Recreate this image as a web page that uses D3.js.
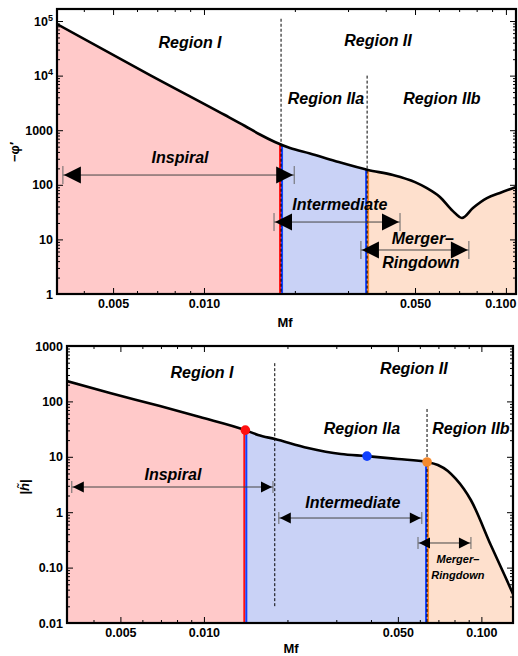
<!DOCTYPE html>
<html>
<head>
<meta charset="utf-8">
<script src="https://cdn.jsdelivr.net/npm/d3@7"></script>
<style>
  body { margin: 0; background: #fff; }
  svg { display: block; }
  text { font-family: "Liberation Sans", Arial, Helvetica, sans-serif; }
</style>
</head>
<body>
<svg id="chart" width="518" height="656"></svg>
<script>
// ---------- Phase derivative −φ′ versus Mf ----------
const phaseMf  = [0.003259, 0.006626, 0.01173, 0.01367, 0.01532, 0.01718, 0.01927, 0.02244, 0.02715, 0.03493,
                  0.04226, 0.0500, 0.05476, 0.06046, 0.06677, 0.0715, 0.07775, 0.0865, 0.0955, 0.108];
const phaseVal = [88100, 10250, 1898, 1194, 834, 608, 472, 374, 273, 187,
                  151, 112, 87, 60, 33, 24.7, 37.6, 57, 71, 91];
const phaseBounds   = [0.018, 0.0347];          // Region I | IIa | IIb
const phaseDividers = [[0.018, 1.1e5], [0.0347, 1e4]];   // [Mf, top of dashed line]
const phaseArrows = [
  { name: "Inspiral",        from: 0.00341, to: 0.0199, at: 151 },
  { name: "Intermediate",    from: 0.01706, to: 0.0446, at: 20.8 },
  { name: "Merger–Ringdown", from: 0.0331,  to: 0.0754, at: 6.4 }
];
const phaseYTicks = [1, 10, 100, 1000, 1e4, 1e5];
const phaseYTickLabels = ["1", "10", "100", "1000", "10^4", "10^5"];

// ---------- Amplitude |h̃| versus Mf ----------
const ampMf  = [0.003206, 0.004585, 0.006941, 0.00967, 0.01406, 0.01567, 0.01803, 0.02371, 0.03117, 0.03866,
                0.0500, 0.06368, 0.0697, 0.07571, 0.08091, 0.08649, 0.09162, 0.1081, 0.1216, 0.130];
const ampVal = [233, 141.8, 82.6, 52.3, 30.5, 24.8, 20.9, 14.4, 11.2, 10.3,
                9.12, 8.06, 7.11, 5.54, 3.98, 2.62, 1.66, 0.256, 0.0705, 0.0334];
const ampBounds   = [0.0141, 0.0637];
const ampDividers = [[0.018, 490, 0.0195], [0.0637, 73, 0.01]];  // [Mf, top, bottom]
const ampDots     = [0.0141, 0.0387, 0.0637];
const ampArrows = [
  { name: "Inspiral",        from: 0.00334, to: 0.01774, at: 2.85 },
  { name: "Intermediate",    from: 0.01862, to: 0.0610,  at: 0.785 },
  { name: "Merger–Ringdown", from: 0.0591,  to: 0.0917,  at: 0.278 }
];
const ampYTicks = [0.01, 0.1, 1, 10, 100, 1000];
const ampYTickLabels = ["0.01", "0.10", "1", "10", "100", "1000"];

// shared frequency ticks
const mfTicks = [0.005, 0.01, 0.05, 0.1];
const mfTickLabels = ["0.005", "0.010", "0.050", "0.100"];

// region / phase names with their anchor points [Mf, value]
const phaseTexts = [
  ["Region I",   0.00899, 41200], ["Region II", 0.0377, 44900],
  ["Region IIa", 0.02535, 3890],  ["Region IIb", 0.0614, 3890],
  ["Inspiral",   0.00833, 310],   ["Intermediate", 0.0282, 44.5],
  ["Merger–",    0.0531, 10.2],   ["Ringdown", 0.0523, 3.70]
];
const ampTexts = [
  ["Region I",   0.00984, 339],   ["Region II", 0.0571, 385],
  ["Region IIa", 0.0371, 31.8],   ["Region IIb", 0.0917, 31.8],
  ["Inspiral",   0.00773, 4.89],  ["Intermediate", 0.0344, 1.47]
];
const ampSmallTexts = [["Merger–", 0.0823, 0.143], ["Ringdown", 0.0823, 0.0735]];

const svg = d3.select("#chart");
const SVG_W = +svg.attr("width");
const FILL = ["#FFC9C9", "#C9D2F6", "#FEE0CD"];
const RED = "#FF1010", BLUE = "#1040FF", ORANGE = "#F58A2E";

function logInterp(xs, ys, f) {
  const lf = Math.log10(f);
  for (let i = 0; i < xs.length - 1; i++) {
    const a = Math.log10(xs[i]), b = Math.log10(xs[i + 1]);
    if (lf >= a && lf <= b) {
      const t = (lf - a) / (b - a);
      return Math.pow(10, Math.log10(ys[i]) * (1 - t) + Math.log10(ys[i + 1]) * t);
    }
  }
  return ys[ys.length - 1];
}

function minorTicks(domain, majors) {
  const out = [];
  const lo = Math.floor(Math.log10(domain[0])), hi = Math.ceil(Math.log10(domain[1]));
  for (let e = lo; e <= hi; e++) {
    for (let k = 1; k <= 9; k++) {
      const v = +(k * Math.pow(10, e)).toPrecision(6);
      if (v >= domain[0] && v <= domain[1] && !majors.some(m => Math.abs(m - v) / v < 1e-6)) out.push(v);
    }
  }
  return out;
}

function drawPanel(p) {
  const x = d3.scaleLog().domain(p.xDomain).range([p.left, p.right]);
  const y = d3.scaleLog().domain(p.yDomain).range([p.bottom, p.top]);
  const g = svg.append("g");
  const id = p.id;

  const defs = g.append("defs");
  defs.append("clipPath").attr("id", id + "-plot").append("rect")
    .attr("x", p.left).attr("y", p.top).attr("width", p.right - p.left).attr("height", p.bottom - p.top);
  const edges = [p.xDomain[0], p.bounds[0], p.bounds[1], p.xDomain[1]];
  for (let i = 0; i < 3; i++) {
    defs.append("clipPath").attr("id", id + "-r" + i).append("rect")
      .attr("x", x(edges[i])).attr("y", p.top)
      .attr("width", x(edges[i + 1]) - x(edges[i])).attr("height", p.bottom - p.top);
  }

  const pts = p.mf.map((f, i) => [f, p.val[i]]);
  const area = d3.area().x(d => x(d[0])).y0(p.bottom).y1(d => y(d[1])).curve(d3.curveMonotoneX);
  const line = d3.line().x(d => x(d[0])).y(d => y(d[1])).curve(d3.curveMonotoneX);

  const plot = g.append("g").attr("clip-path", `url(#${id}-plot)`);
  for (let i = 0; i < 3; i++) {
    plot.append("g").attr("clip-path", `url(#${id}-r${i})`)
      .append("path").attr("d", area(pts)).attr("fill", FILL[i]);
  }

  // coloured region edges
  const edgeCols = [[RED, BLUE], [BLUE, ORANGE]];
  p.bounds.forEach((b, i) => {
    const yTop = y(logInterp(p.mf, p.val, b));
    [-1, 1].forEach((off, j) => {
      plot.append("line").attr("x1", x(b) + off).attr("x2", x(b) + off)
        .attr("y1", yTop).attr("y2", p.bottom)
        .attr("stroke", edgeCols[i][j]).attr("stroke-width", 2);
    });
  });

  // dashed dividers
  p.dividers.forEach(d => {
    plot.append("line").attr("x1", x(d[0])).attr("x2", x(d[0]))
      .attr("y1", y(d[1])).attr("y2", d[2] ? y(d[2]) : p.bottom)
      .attr("stroke", "#000").attr("stroke-width", 1).attr("stroke-dasharray", "3,2");
  });

  plot.append("path").attr("d", line(pts)).attr("fill", "none")
    .attr("stroke", "#000").attr("stroke-width", 2.6).attr("stroke-linejoin", "round");

  // arrows
  p.arrows.forEach(a => {
    const x1 = x(a.from), x2 = x(a.to), yy = y(a.at);
    const ag = g.append("g");
    ag.append("line").attr("x1", x1).attr("x2", x2).attr("y1", yy).attr("y2", yy)
      .attr("stroke", "#444").attr("stroke-width", 1);
    [x1, x2].forEach(xx => ag.append("line").attr("x1", xx).attr("x2", xx)
      .attr("y1", yy - p.barHalf).attr("y2", yy + p.barHalf).attr("stroke", "#666").attr("stroke-width", 1));
    const L = p.headLen, Hh = p.headHalf;
    ag.append("path").attr("d", `M${x1 + 1},${yy}L${x1 + 1 + L},${yy - Hh}L${x1 + 1 + L},${yy + Hh}Z`).attr("fill", "#000");
    ag.append("path").attr("d", `M${x2 - 1},${yy}L${x2 - 1 - L},${yy - Hh}L${x2 - 1 - L},${yy + Hh}Z`).attr("fill", "#000");
  });

  // dots
  (p.dots || []).forEach((f, i) => {
    g.append("circle").attr("cx", x(f)).attr("cy", y(logInterp(p.mf, p.val, f)))
      .attr("r", 4.8).attr("fill", [RED, BLUE, ORANGE][i]);
  });

  // annotations
  p.texts.forEach(t => {
    g.append("text").attr("x", x(t[1])).attr("y", y(t[2])).attr("text-anchor", "middle")
      .attr("dominant-baseline", "central").attr("font-size", 16).attr("font-weight", "bold")
      .attr("font-style", "italic").attr("fill", "#000").text(t[0]);
  });
  (p.smallTexts || []).forEach(t => {
    g.append("text").attr("x", x(t[1])).attr("y", y(t[2])).attr("text-anchor", "middle")
      .attr("dominant-baseline", "central").attr("font-size", 11).attr("font-weight", "bold")
      .attr("font-style", "italic").attr("fill", "#000").text(t[0]);
  });

  // axes with inward ticks on all four sides
  const xMinor = minorTicks(p.xDomain, mfTicks);
  const yMinor = minorTicks(p.yDomain, p.yTicks);
  const styleAxis = sel => {
    sel.select(".domain").remove();
    sel.selectAll(".tick line").attr("stroke", "#000").attr("stroke-width", 1);
    sel.selectAll(".tick text").attr("font-size", 12.5).attr("font-weight", "bold").attr("fill", "#000");
  };
  const ax = (gen, tr) => g.append("g").attr("transform", tr).call(gen).call(styleAxis);

  const xl = ax(d3.axisBottom(x).tickValues(mfTicks).tickSize(-6).tickPadding(5)
      .tickFormat((d, i) => mfTickLabels[i]), `translate(0,${p.bottom})`);
  // keep the last frequency label inside the drawing
  xl.selectAll(".tick text").each(function () {
    const bb = this.getBoundingClientRect();
    if (bb.right > SVG_W - 1) d3.select(this).attr("dx", -(bb.right - SVG_W + 1.5));
  });
  ax(d3.axisBottom(x).tickValues(xMinor).tickSize(-3).tickFormat(""), `translate(0,${p.bottom})`);
  ax(d3.axisTop(x).tickValues(mfTicks).tickSize(-6).tickFormat(""), `translate(0,${p.top})`);
  ax(d3.axisTop(x).tickValues(xMinor).tickSize(-3).tickFormat(""), `translate(0,${p.top})`);

  const yl = ax(d3.axisLeft(y).tickValues(p.yTicks).tickSize(-6).tickPadding(4)
      .tickFormat((d, i) => p.yTickLabels[i]), `translate(${p.left},0)`);
  yl.selectAll(".tick text").each(function (d, i) {
    const lab = p.yTickLabels[i];
    if (lab.indexOf("^") > 0) {
      const [b, e] = lab.split("^");
      const t = d3.select(this).text(b);
      t.append("tspan").attr("dy", "-0.55em").attr("font-size", 9).text(e);
    }
  });
  ax(d3.axisLeft(y).tickValues(yMinor).tickSize(-3).tickFormat(""), `translate(${p.left},0)`);
  ax(d3.axisRight(y).tickValues(p.yTicks).tickSize(-6).tickFormat(""), `translate(${p.right},0)`);
  ax(d3.axisRight(y).tickValues(yMinor).tickSize(-3).tickFormat(""), `translate(${p.right},0)`);

  // frame
  g.append("rect").attr("x", p.left).attr("y", p.top)
    .attr("width", p.right - p.left).attr("height", p.bottom - p.top)
    .attr("fill", "none").attr("stroke", "#000").attr("stroke-width", 2.2);

  // axis titles
  g.append("text").attr("x", p.xTitle[0]).attr("y", p.xTitle[1]).attr("text-anchor", "middle")
    .attr("dominant-baseline", "central").attr("font-size", 13).attr("font-weight", "bold").text("Mf");
  const yt = g.append("text").attr("transform", `translate(${p.yTitle[0]},${p.yTitle[1]}) rotate(-90)`)
    .attr("text-anchor", "middle").attr("dominant-baseline", "central")
    .attr("font-size", 13).attr("font-weight", "bold");
  p.yTitleFn(yt);
}

drawPanel({
  id: "phase", left: 57, right: 516, top: 9, bottom: 294,
  xDomain: [0.00326, 0.108], yDomain: [1, 1.66e5],
  mf: phaseMf, val: phaseVal, bounds: phaseBounds, dividers: phaseDividers,
  arrows: phaseArrows, headLen: 17, headHalf: 8.5, barHalf: 9,
  texts: phaseTexts, yTicks: phaseYTicks, yTickLabels: phaseYTickLabels,
  xTitle: [285, 322], yTitle: [14, 152],
  yTitleFn: t => { t.text("−φ′"); }
});

drawPanel({
  id: "amp", left: 67, right: 513, top: 346, bottom: 623,
  xDomain: [0.00321, 0.13], yDomain: [0.01, 1000],
  mf: ampMf, val: ampVal, bounds: ampBounds, dividers: ampDividers, dots: ampDots,
  arrows: ampArrows, headLen: 11, headHalf: 5.5, barHalf: 6,
  texts: ampTexts, smallTexts: ampSmallTexts, yTicks: ampYTicks, yTickLabels: ampYTickLabels,
  xTitle: [291, 648], yTitle: [24, 487],
  yTitleFn: t => { t.text("|"); t.append("tspan").attr("font-style", "italic").text("h̃"); t.append("tspan").text("|"); }
});
</script>
</body>
</html>
